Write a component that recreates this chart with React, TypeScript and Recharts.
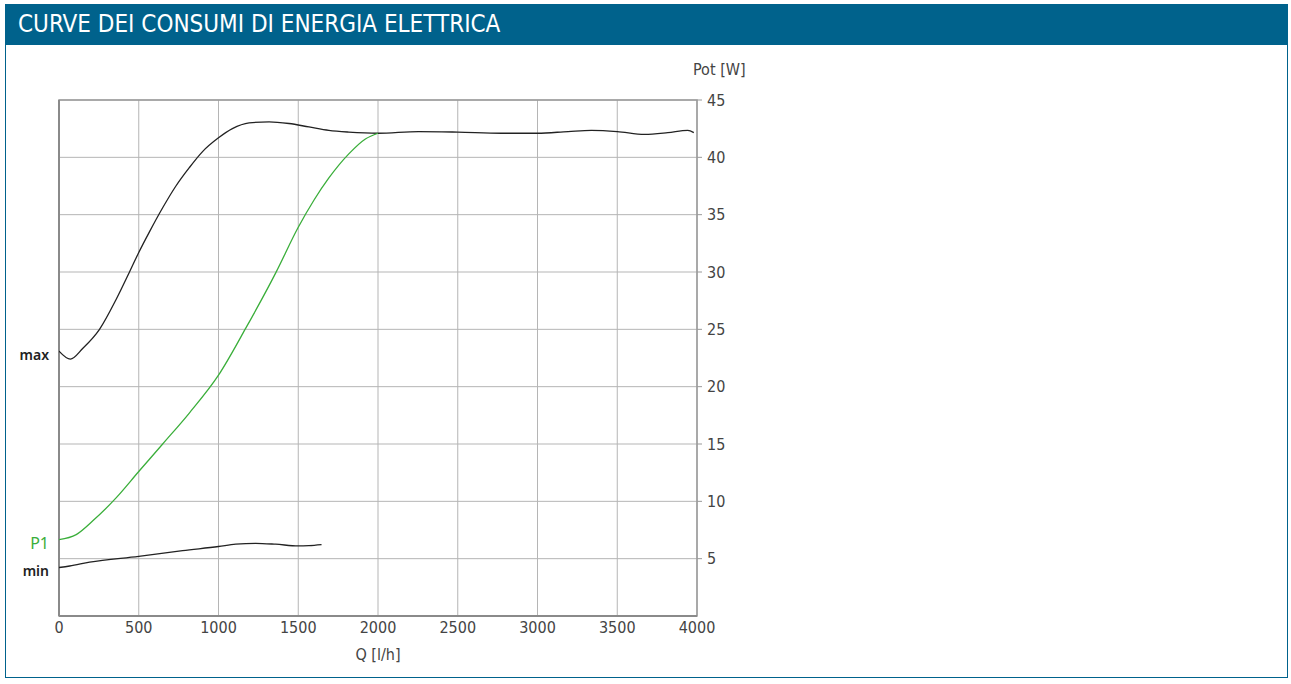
// App.tsx
// Electric power consumption curves (max / P1 / min) against flow rate.

import {
  LineChart,
  Line,
  XAxis,
  YAxis,
  CartesianGrid,
  ReferenceArea,
  ReferenceLine,
  LabelList,
} from "recharts";

const qTicks = [0, 500, 1000, 1500, 2000, 2500, 3000, 3500, 4000];
const potTicks = [5, 10, 15, 20, 25, 30, 35, 40, 45];

// max curve
const maxQ = [0, 71, 150, 254, 358, 442, 500, 567, 650, 733, 817, 900, 1000, 1087, 1192, 1317, 1442, 1567, 1692, 1817, 2000, 2254, 2500, 2775, 3000, 3192, 3337, 3500, 3671, 3817, 3942, 3980];
const maxW = [23.1, 22.4, 23.35, 25.0, 27.6, 30.0, 31.7, 33.5, 35.6, 37.5, 39.1, 40.5, 41.7, 42.5, 43.0, 43.1, 42.95, 42.65, 42.35, 42.2, 42.1, 42.25, 42.2, 42.1, 42.1, 42.25, 42.35, 42.25, 42.0, 42.15, 42.35, 42.15];

// P1 curve
const p1Q = [0, 108, 212, 358, 500, 650, 817, 1000, 1171, 1358, 1500, 1600, 1692, 1817, 1921, 2000];
const p1W = [6.66, 7.1, 8.3, 10.3, 12.6, 15.0, 17.7, 21.0, 25.1, 29.9, 33.9, 36.3, 38.2, 40.3, 41.6, 42.1];

// min curve
const minQ = [0, 67, 192, 500, 775, 1000, 1108, 1233, 1358, 1500, 1567, 1646];
const minW = [4.23, 4.36, 4.7, 5.2, 5.7, 6.06, 6.26, 6.34, 6.26, 6.11, 6.14, 6.23];

const seriesNames = ["max", "P1", "min"];
const seriesColors = ["#222222", "#3aae3a", "#222222"];

const toRows = (q: number[], w: number[]) => q.map((v, i) => ({ q: v, w: w[i] }));
const maxRows = toRows(maxQ, maxW);
const p1Rows = toRows(p1Q, p1W);
const minRows = toRows(minQ, minW);

const NARROW = "'DejaVu Sans Condensed', 'DejaVu Sans', sans-serif";
const BLUE = "#00628c";

// series name drawn left of the plot, level with the curve's first point
function startLabel(i: number) {
  return (p: any) => {
    if (p.index !== 0) return null;
    const green = i === 1;
    return (
      <text
        x={Number(p.x) - 10}
        y={Number(p.y) + 3}
        textAnchor="end"
        dominantBaseline="central"
        fill={seriesColors[i]}
        fontFamily="'Noto Sans', sans-serif"
        fontSize={green ? 16 : 14}
        fontWeight={green ? 400 : 600}
      >
        {seriesNames[i]}
      </text>
    );
  };
}

export default function App() {
  const tickStyle = { fontFamily: NARROW, fontSize: 16, fill: "#444", fontStretch: "condensed" };
  const rows = [maxRows, p1Rows, minRows];
  return (
    <div style={{ position: "absolute", left: 0, top: 0, width: 1291, height: 684, background: "#fff" }}>
      <div
        style={{
          position: "absolute",
          left: 5,
          top: 4,
          width: 1283,
          height: 674,
          border: `1px solid ${BLUE}`,
          boxSizing: "border-box",
        }}
      />
      <div
        style={{
          position: "absolute",
          left: 5,
          top: 4,
          width: 1283,
          height: 41,
          background: BLUE,
          color: "#fff",
          fontFamily: NARROW,
          fontStretch: "condensed",
          fontSize: 24,
          lineHeight: "41px",
          paddingLeft: 13,
          boxSizing: "border-box",
        }}
      >
        CURVE DEI CONSUMI DI ENERGIA ELETTRICA
      </div>
      <div
        style={{
          position: "absolute",
          left: 693,
          top: 59,
          fontFamily: NARROW,
          fontStretch: "condensed",
          fontSize: 16,
          color: "#444",
          lineHeight: "22px",
        }}
      >
        Pot [W]
      </div>
      <div style={{ position: "absolute", left: 0, top: 0 }}>
        <LineChart
          width={1291}
          height={684}
          margin={{ top: 100, right: 544, bottom: 16, left: 59 }}
        >
          <CartesianGrid
            stroke="#b5b5b5"
            strokeWidth={1}
            horizontalValues={potTicks}
            verticalValues={qTicks}
          />
          <XAxis
            dataKey="q"
            type="number"
            domain={[0, 4000]}
            ticks={qTicks}
            allowDataOverflow
            height={52}
            tickSize={0}
            tickMargin={6}
            tickLine={false}
            axisLine={{ stroke: "#8a8a8a", strokeWidth: 2 }}
            tick={tickStyle}
            interval={0}
            label={{
              value: "Q [l/h]",
              position: "insideBottom",
              offset: 8,
              style: { fontFamily: NARROW, fontSize: 16, fill: "#444", fontStretch: "condensed" },
            }}
          />
          <YAxis
            orientation="right"
            type="number"
            domain={[0, 45]}
            ticks={potTicks}
            width={50}
            tickSize={5}
            tickMargin={5}
            axisLine={false}
            tickLine={{ stroke: "#999" }}
            tick={{ ...tickStyle, textAnchor: "start" }}
            interval={0}
          />
          <ReferenceArea
            x1={0}
            x2={4000}
            y1={0}
            y2={45}
            fill="none"
            stroke="#999"
            strokeWidth={1.5}
          />
          <ReferenceLine x={0} stroke="#8a8a8a" strokeWidth={2} />
          {rows.map((r, i) => (
            <Line
              key={seriesNames[i]}
              data={r}
              dataKey="w"
              type="monotone"
              stroke={seriesColors[i]}
              strokeWidth={1.3}
              dot={false}
              isAnimationActive={false}
            >
              <LabelList dataKey="w" content={startLabel(i)} />
            </Line>
          ))}
        </LineChart>
      </div>
    </div>
  );
}
